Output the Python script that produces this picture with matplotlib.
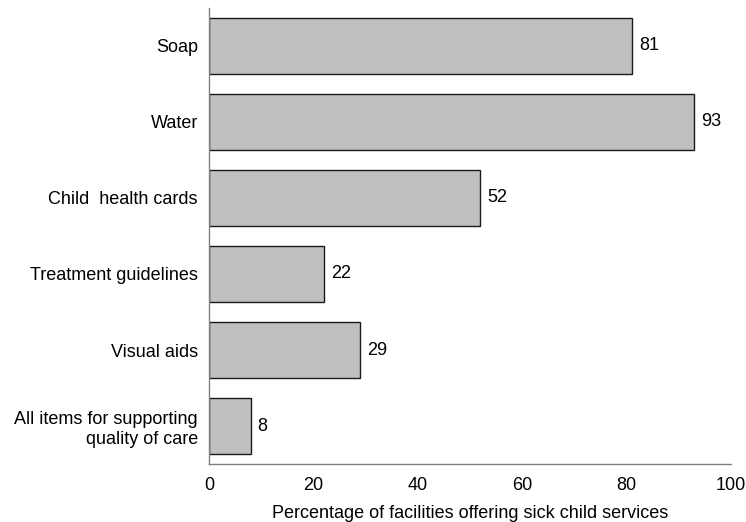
import matplotlib.pyplot as plt
import numpy as np

plt.rcParams['font.family'] = ['Liberation Sans', 'DejaVu Sans']

categories = ['Soap', 'Water', 'Child  health cards', 'Treatment guidelines',
              'Visual aids', 'All items for supporting\nquality of care']
values = [81, 93, 52, 22, 29, 8]
xticks = [0, 20, 40, 60, 80, 100]

fig = plt.figure(figsize=(7.46, 5.22), dpi=100)
ax = fig.add_axes([0.2802, 0.1111, 0.6997, 0.8736])

y = np.arange(len(categories))
ax.barh(y, values, height=0.74, color='#c0c0c0', edgecolor='#1a1a1a', linewidth=1)

for yi, v in zip(y, values):
    ax.annotate(str(v), (v, yi), xytext=(5, 0), textcoords='offset points',
                ha='left', va='center', fontsize=13)

ax.set_ylim(len(categories) - 0.5, -0.5)
ax.set_xlim(0, 100)
ax.set_yticks(y)
ax.set_yticklabels(categories, fontsize=13)
ax.set_xticks(xticks)
ax.set_xticklabels([str(t) for t in xticks], fontsize=13)
ax.tick_params(axis='y', length=0, pad=8)
ax.tick_params(axis='x', length=0, pad=9.5)
ax.set_xlabel('Percentage of facilities offering sick child services', fontsize=13, labelpad=8)

for s in ['top', 'right']:
    ax.spines[s].set_visible(False)
for s in ['left', 'bottom']:
    ax.spines[s].set_color('#808080')
    ax.spines[s].set_linewidth(1)

fig.savefig('out.png', dpi=100)
